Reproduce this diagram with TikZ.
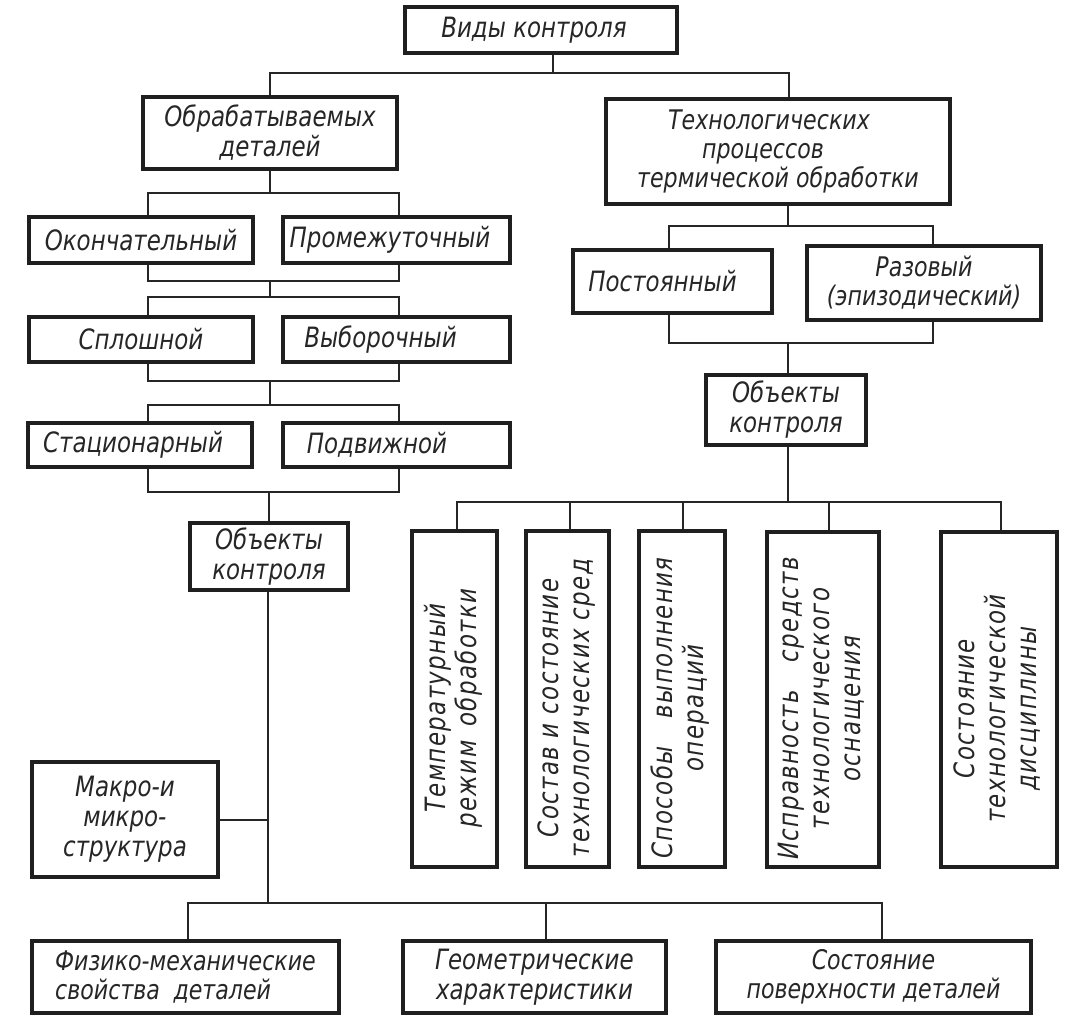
\documentclass[tikz,border=0pt]{standalone}
\usepackage{fontspec}
\usepackage{graphicx}
\newfontfamily\gost{DejaVu Sans}[FakeStretch=0.82]
\newfontfamily\gostv{DejaVu Sans}[UprightFont=* Oblique,ItalicFont=* Oblique,FakeStretch=0.82,LetterSpace=5]
\newcommand\gostfont{\gost\itshape\fontsize{28}{30}\selectfont}
\newcommand\gostsmall{\gost\itshape\fontsize{27}{29}\selectfont}
\newcommand\bx[7][]{\node[box,#1,minimum width=#5pt,minimum height=#6pt] (#2) at (#3,#4) {#7};}
\newcommand\vt[1]{\rotatebox{90}{\gostv\fontsize{28}{31}\selectfont\begin{tabular}{@{}c@{}}#1\end{tabular}\kern18pt}}
\begin{document}
\begin{tikzpicture}[x=1pt,y=-1pt,
  box/.style={draw=black!88,line width=3.3pt,inner sep=0pt,font=\gostfont,align=center,text=black!85},
  conn/.style={draw=black!85,line width=2pt}]
\useasboundingbox (0,0) rectangle (1074,1027);
% top
\bx{vidy}{541}{30}{272}{46}{Виды контроля\kern14pt}
\bx{obr}{270}{133}{254}{72}{Обрабатываемых\\деталей}
\bx[font=\gostsmall]{tech}{778}{151.5}{344}{105}{Технологических\kern18pt\\процессов\kern30pt\\термической обработки}
% left column
\bx{okon}{141}{240}{224}{46}{Окончательный}
\bx{prom}{396.5}{240}{227}{46}{Промежуточный\kern13pt}
\bx{splosh}{141}{339.5}{224}{45}{Сплошной}
\bx{vybor}{396.5}{339.5}{227}{45}{Выборочный\kern32pt}
\bx{stac}{140}{445}{224}{44}{Стационарный\kern14pt}
\bx{podv}{396.5}{445}{227}{44}{Подвижной\kern39pt}
\bx{objL}{269}{556.5}{158}{67}{Объекты\\контроля}
\bx{makro}{125}{819.5}{186}{115}{Макро-и\\микро-\\структура}
\bx[align=left,font=\gostsmall]{fiz}{185.5}{977}{307}{72}{Физико-механические\\свойства\enspace деталей}
\bx{geom}{534.5}{977}{263}{72}{Геометрические\\характеристики}
\bx[font=\gostsmall]{sost}{873.5}{977}{315}{72}{Состояние\\поверхности деталей}
% right column
\bx{post}{672.5}{281.5}{199}{63}{Постоянный\kern20pt}
\bx[font=\gostsmall]{raz}{924}{283}{234}{74}{Разовый\\(эпизодический)}
\bx{objR}{786}{410}{160}{70}{Объекты\\контроля}
\bx{v1}{454.5}{699}{85}{336}{\vt{Температурный\\режим\enspace обработки}}
\bx{v2}{567.5}{699}{83}{336}{\vt{Состав и состояние\\технологических сред}}
\bx{v3}{682}{699}{86}{336}{\vt{Способы\quad выполнения\\операций}}
\bx{v4}{823}{699.5}{112}{335}{\vt{Исправность\quad средств\\технологического\\оснащения}}
\bx[line width=4.2pt]{v5}{999}{699.5}{116}{335}{\vt{Состояние\\технологической\\дисциплины}}
% connection points
\coordinate (t0) at (553,73);
\coordinate (vidyb) at ([xshift=12pt]vidy.south);
\coordinate (techt) at ([xshift=11pt]tech.north);
\coordinate (techb) at ([xshift=10pt]tech.south);
\coordinate (okt) at ([xshift=7pt]okon.north);
\coordinate (okb) at ([xshift=7pt]okon.south);
\coordinate (prt) at ([xshift=2.5pt]prom.north);
\coordinate (prb) at ([xshift=2.5pt]prom.south);
\coordinate (spt) at ([xshift=7pt]splosh.north);
\coordinate (spb) at ([xshift=7pt]splosh.south);
\coordinate (vyt) at ([xshift=2.5pt]vybor.north);
\coordinate (vyb) at ([xshift=2.5pt]vybor.south);
\coordinate (stt) at ([xshift=8pt]stac.north);
\coordinate (stb) at ([xshift=8pt]stac.south);
\coordinate (pot) at ([xshift=2pt]podv.north);
\coordinate (pob) at ([xshift=2pt]podv.south);
\coordinate (l1) at (270,193);
\coordinate (l2) at (270,281);
\coordinate (l3) at (270,297);
\coordinate (l4) at (270,381);
\coordinate (l5) at (270,405);
\coordinate (l6) at (269,492);
\coordinate (l7) at (268,903);
\coordinate (fizt) at ([xshift=2.5pt]fiz.north);
\coordinate (geot) at ([xshift=11.5pt]geom.north);
\coordinate (sost-t) at ([xshift=8.5pt]sost.north);
\coordinate (r1) at (788,226);
\coordinate (r2) at (788,343);
\coordinate (r3) at (788,502);
\coordinate (pst) at ([xshift=-3.5pt]post.north);
\coordinate (psb) at ([xshift=-3.5pt]post.south);
\coordinate (rzt) at ([xshift=9pt]raz.north);
\coordinate (rzb) at ([xshift=9pt]raz.south);
\coordinate (v1t) at ([xshift=2.5pt]v1.north);
\coordinate (v2t) at ([xshift=2.5pt]v2.north);
\coordinate (v3t) at ([xshift=1pt]v3.north);
\coordinate (v4t) at ([xshift=6pt]v4.north);
\coordinate (v5t) at ([xshift=2pt]v5.north);
% connectors
\draw[conn] (vidyb) -- (t0);
\draw[conn] (obr.north) |- (t0) -| (techt);
\draw[conn] (obr.south) -- (l1);
\draw[conn] (okt) |- (l1) -| (prt);
\draw[conn] (okb) |- (l2) -| (prb);
\draw[conn] (l2) -- (l3);
\draw[conn] (spt) |- (l3) -| (vyt);
\draw[conn] (spb) |- (l4) -| (vyb);
\draw[conn] (l4) -- (l5);
\draw[conn] (stt) |- (l5) -| (pot);
\draw[conn] (stb) |- (l6) -| (pob);
\draw[conn] (l6) -- (objL.north);
\draw[conn] (objL.south -| l7) -- (l7);
\draw[conn] (makro.east) -- (makro.east -| l7);
\draw[conn] (fizt) |- (l7) -| (sost-t);
\draw[conn] (geot) -- (geot |- l7);
\draw[conn] (techb) -- (r1);
\draw[conn] (pst) |- (r1) -| (rzt);
\draw[conn] (psb) |- (r2) -| (rzb);
\draw[conn] (r2) -- (objR.north -| r2);
\draw[conn] (objR.south -| r3) -- (r3);
\draw[conn] (v1t) |- (r3) -| (v5t);
\draw[conn] (v2t) -- (v2t |- r3);
\draw[conn] (v3t) -- (v3t |- r3);
\draw[conn] (v4t) -- (v4t |- r3);
\end{tikzpicture}
\end{document}
